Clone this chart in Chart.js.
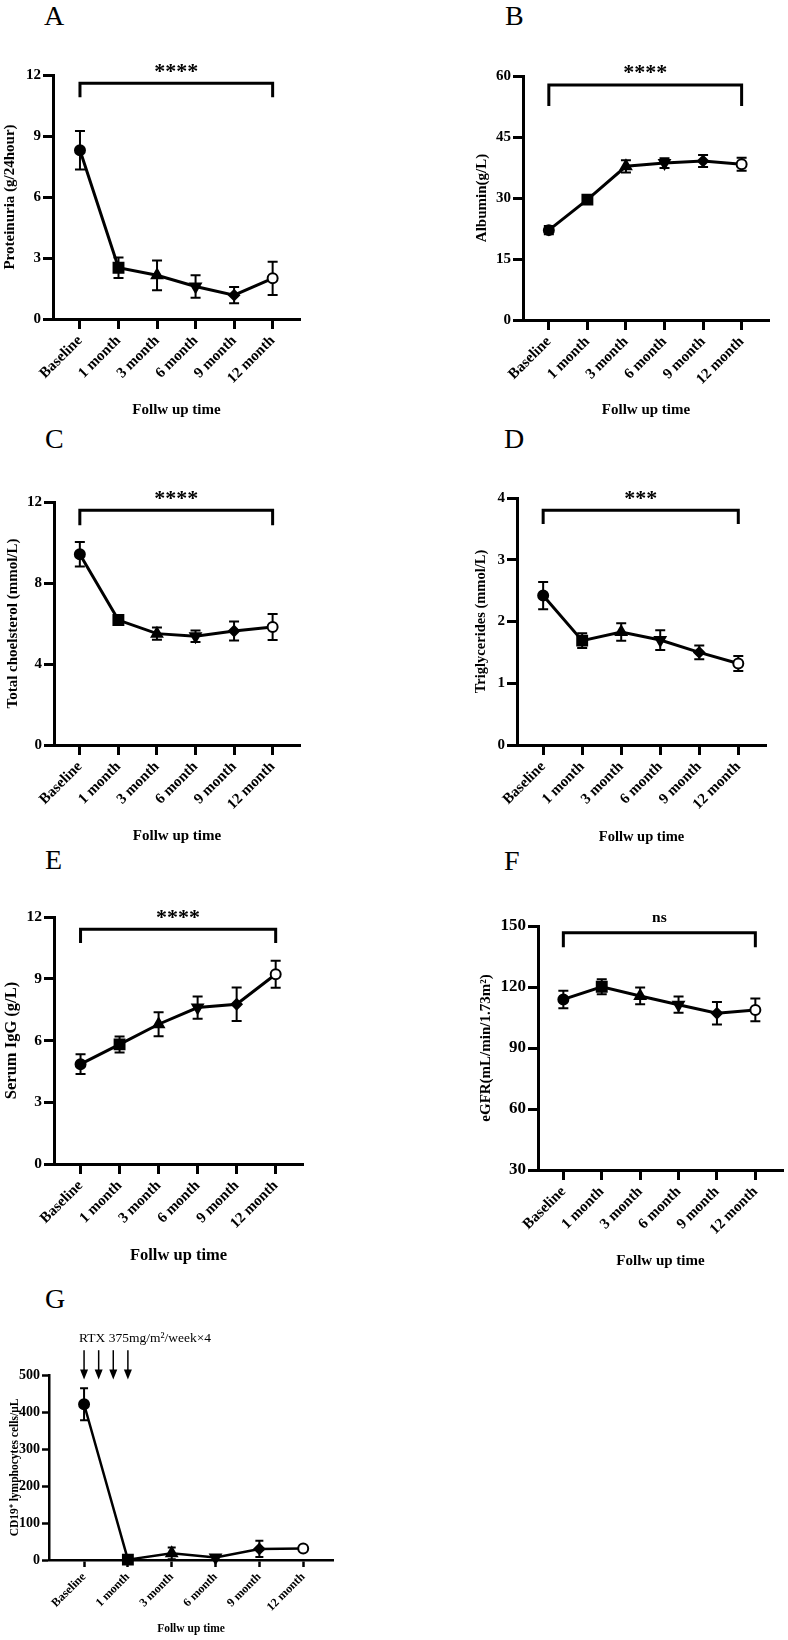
<!DOCTYPE html>
<html>
<head>
<meta charset="utf-8">
<script src="https://cdn.jsdelivr.net/npm/chart.js@4.4.1/dist/chart.umd.min.js"></script>
<style>
  body { margin: 0; background: #fff; width: 788px; height: 1640px; position: relative; overflow: hidden; }
  canvas { position: absolute; }
  .lbl { position: absolute; font: 28px "Liberation Serif", "Times New Roman", serif; line-height: 28px; color: #000; }
</style>
</head>
<body>
<div class="lbl" style="left:44px;top:2px">A</div>
<div class="lbl" style="left:505px;top:2px">B</div>
<div class="lbl" style="left:45px;top:425px">C</div>
<div class="lbl" style="left:504px;top:425px">D</div>
<div class="lbl" style="left:45px;top:846px">E</div>
<div class="lbl" style="left:504px;top:847px">F</div>
<div class="lbl" style="left:45px;top:1285px">G</div>
<script>
// follow-up points
const categories = ['Baseline', '1 month', '3 month', '6 month', '9 month', '12 month'];

// mean and error
const proteinuria = [8.3, 2.52, 2.15, 1.6, 1.17, 2.0];
const proteinuriaErr = [0.95, 0.5, 0.73, 0.55, 0.4, 0.82];
const albumin = [22.1, 29.6, 37.8, 38.6, 39.1, 38.3];
const albuminErr = [1.0, 0.8, 1.5, 1.2, 1.5, 1.6];
const cholesterol = [9.42, 6.17, 5.5, 5.37, 5.63, 5.83];
const cholesterolErr = [0.6, 0.2, 0.3, 0.28, 0.47, 0.64];
const triglycerides = [2.42, 1.69, 1.83, 1.7, 1.5, 1.32];
const triglyceridesErr = [0.22, 0.12, 0.14, 0.16, 0.11, 0.12];
const igg = [4.85, 5.81, 6.79, 7.6, 7.76, 9.22];
const iggErr = [0.48, 0.39, 0.58, 0.54, 0.81, 0.66];
const egfr = [113.9, 120.1, 115.6, 111.3, 107.1, 108.7];
const egfrErr = [4.3, 3.7, 4.1, 4.0, 5.5, 5.6];
const cd19 = [421, 1, 18, 7, 30, 31];
const cd19Err = [43, 2, 16, 5, 22, 3];

// RTX given weekly x4 between baseline and 1 month
const rtxDoses = [0, 1 / 3, 2 / 3, 1];

// prism-like markers, one per time point
const markerStyle = ['circle', 'rect', 'triangle', 'triangle', 'rectRot', 'circle'];
const markerRotation = [0, 0, 0, 180, 0, 0];
const markerFill = ['#000', '#000', '#000', '#000', '#000', '#fff'];
const markerRadius = [5, 7, 6, 6, 5, 5];

const FAMILY = '"Liberation Serif", "Times New Roman", serif';
const font = (size, weight = 'bold') => ({ family: FAMILY, size, weight });

const errorBars = {
  id: 'errorBars',
  beforeDatasetsDraw(chart) {
    const ctx = chart.ctx, xs = chart.scales.x, ys = chart.scales.y;
    chart.data.datasets.forEach(ds => {
      if (!ds.errors) return;
      ctx.save();
      ctx.strokeStyle = '#000';
      ctx.lineWidth = 2;
      const cap = ds.capHalf || 5;
      ds.data.forEach((pt, i) => {
        const e = ds.errors[i];
        const x = xs.getPixelForValue(pt.x);
        const y1 = ys.getPixelForValue(pt.y + e);
        const y2 = ys.getPixelForValue(Math.max(pt.y - e, ys.min));
        ctx.beginPath();
        ctx.moveTo(x, y1); ctx.lineTo(x, y2);
        ctx.moveTo(x - cap, y1); ctx.lineTo(x + cap, y1);
        ctx.moveTo(x - cap, y2); ctx.lineTo(x + cap, y2);
        ctx.stroke();
      });
      ctx.restore();
    });
  }
};

const bracket = {
  id: 'bracket',
  afterDraw(chart, args, o) {
    if (!o || o.text === undefined) return;
    const ctx = chart.ctx, xs = chart.scales.x, ys = chart.scales.y;
    const x1 = xs.getPixelForValue(0), x2 = xs.getPixelForValue(categories.length - 1);
    const yTop = ys.getPixelForValue(o.top), yLeg = ys.getPixelForValue(o.leg);
    ctx.save();
    ctx.strokeStyle = '#000';
    ctx.lineWidth = 3;
    ctx.lineJoin = 'miter';
    ctx.beginPath();
    ctx.moveTo(x1, yLeg); ctx.lineTo(x1, yTop); ctx.lineTo(x2, yTop); ctx.lineTo(x2, yLeg);
    ctx.stroke();
    ctx.fillStyle = '#000';
    ctx.font = 'bold ' + o.size + 'px ' + FAMILY;
    ctx.textAlign = 'center';
    ctx.textBaseline = 'alphabetic';
    ctx.fillText(o.text, (x1 + x2) / 2, yTop - o.gap);
    ctx.restore();
  }
};

const rtxArrows = {
  id: 'rtxArrows',
  afterDraw(chart, args, o) {
    if (!o || !o.doses) return;
    const ctx = chart.ctx, xs = chart.scales.x, ys = chart.scales.y;
    const top = ys.getPixelForValue(o.from), tip = ys.getPixelForValue(o.to);
    ctx.save();
    ctx.strokeStyle = '#000';
    ctx.fillStyle = '#000';
    o.doses.forEach(d => {
      const x = xs.getPixelForValue(d);
      ctx.lineWidth = 1.5;
      ctx.beginPath(); ctx.moveTo(x, top); ctx.lineTo(x, tip - 8); ctx.stroke();
      ctx.beginPath(); ctx.moveTo(x - 4, tip - 10); ctx.lineTo(x + 4, tip - 10); ctx.lineTo(x, tip); ctx.closePath(); ctx.fill();
    });
    ctx.font = 'normal 13.5px ' + FAMILY;
    ctx.textAlign = 'left';
    ctx.textBaseline = 'alphabetic';
    ctx.fillText(o.text, xs.getPixelForValue(o.doses[0]) - 5, ys.getPixelForValue(o.textAt));
    ctx.restore();
  }
};

const panels = [
  { values: proteinuria, errors: proteinuriaErr, yTitle: 'Proteinuria (g/24hour)', yMin: 0, yMax: 12, yStep: 3,
    xMin: -0.7, xMax: 5.71, sig: { text: '****', top: 11.6, leg: 10.9, size: 22, gap: 5.5 },
    area: { l: 53, r: 300, t: 75, b: 319 }, titleX: 10, xTitleY: 410, tick: 15, xTick: 15, title: 15 },
  { values: albumin, errors: albuminErr, yTitle: 'Albumin(g/L)', yMin: 0, yMax: 60, yStep: 15,
    xMin: -0.67, xMax: 5.71, sig: { text: '****', top: 57.8, leg: 52.6, size: 22, gap: 5.5 },
    area: { l: 523, r: 769, t: 76, b: 320 }, titleX: 482, xTitleY: 410, tick: 15, xTick: 15, title: 15 },
  { values: cholesterol, errors: cholesterolErr, yTitle: 'Total choelsterol (mmol/L)', yMin: 0, yMax: 12, yStep: 4,
    xMin: -0.67, xMax: 5.71, sig: { text: '****', top: 11.59, leg: 10.85, size: 22, gap: 5.5 },
    area: { l: 54, r: 300, t: 502, b: 745 }, titleX: 13, xTitleY: 836, tick: 15, xTick: 15, title: 15 },
  { values: triglycerides, errors: triglyceridesErr, yTitle: 'Triglycerides (mmol/L)', yMin: 0, yMax: 4, yStep: 1,
    xMin: -0.67, xMax: 5.71, sig: { text: '***', top: 3.8, leg: 3.58, size: 22, gap: 5.5 },
    area: { l: 517, r: 766, t: 498, b: 745 }, titleX: 482, xTitleY: 837, tick: 15, xTick: 15, title: 14.5 },
  { values: igg, errors: iggErr, yTitle: 'Serum IgG (g/L)', yMin: 0, yMax: 12, yStep: 3,
    xMin: -0.68, xMax: 5.7, sig: { text: '****', top: 11.4, leg: 10.74, size: 22, gap: 5.5 },
    area: { l: 54, r: 303, t: 917, b: 1164 }, titleX: 12, xTitleY: 1256, tick: 15.5, xTick: 15, title: 16.5 },
  { values: egfr, errors: egfrErr, yTitle: 'eGFR(mL/min/1.73m²)', yMin: 30, yMax: 150, yStep: 30,
    xMin: -0.66, xMax: 5.72, sig: { text: 'ns', top: 146.7, leg: 139.5, size: 15.5, gap: 11 },
    area: { l: 538, r: 783, t: 926, b: 1170 }, titleX: 486, xTitleY: 1261, tick: 17, xTick: 15, title: 15 },
  { values: cd19, errors: cd19Err, yTitle: 'CD19⁺ lymphocytes cells/μL', yMin: 0, yMax: 500, yStep: 100,
    xMin: -0.8, xMax: 5.68, rtx: { doses: rtxDoses, from: 567, to: 488, textAt: 589, text: 'RTX 375mg/m²/week×4' },
    area: { l: 49, r: 333, t: 1375, b: 1560 }, titleX: 15, xTitleY: 1629, tick: 14, xTick: 12, title: 11.5,
    padTop: 56, tickLen: 7, lineW: 2.5, cap: 4 }
];

function makePanel(p) {
  const half = p.title * 1.2 / 2;
  const padT = p.padTop || 40;
  const padR = 12;
  const cLeft = Math.round(p.titleX - half - 2);
  const cTop = p.area.t - padT;
  const cRight = p.area.r + padR;
  const cBottom = Math.round(p.xTitleY + half + 4);
  const yW = p.area.l - cLeft;
  const xH = cBottom - p.area.b;
  const tickLen = p.tickLen || 10;
  const axisW = p.lineW || 3;

  const canvas = document.createElement('canvas');
  canvas.width = cRight - cLeft;
  canvas.height = cBottom - cTop;
  canvas.style.left = cLeft + 'px';
  canvas.style.top = cTop + 'px';
  document.body.appendChild(canvas);

  const pluginOpts = { legend: { display: false }, tooltip: { enabled: false } };
  const plugins = [errorBars];
  if (p.sig) { plugins.push(bracket); pluginOpts.bracket = p.sig; }
  if (p.rtx) { plugins.push(rtxArrows); pluginOpts.rtxArrows = p.rtx; }

  new Chart(canvas, {
    type: 'line',
    data: {
      datasets: [{
        data: p.values.map((v, i) => ({ x: i, y: v })),
        errors: p.errors,
        capHalf: p.cap || 5,
        borderColor: '#000',
        borderWidth: axisW,
        tension: 0,
        fill: false,
        clip: false,
        pointStyle: markerStyle,
        pointRotation: markerRotation,
        pointRadius: markerRadius,
        pointBackgroundColor: markerFill,
        pointBorderColor: '#000',
        pointBorderWidth: 2
      }]
    },
    options: {
      responsive: false,
      animation: false,
      events: [],
      layout: { padding: { top: padT, right: padR, left: 0, bottom: 0 } },
      scales: {
        x: {
          type: 'linear',
          min: p.xMin,
          max: p.xMax,
          afterBuildTicks: s => { s.ticks = categories.map((c, i) => ({ value: i })); },
          afterFit: s => { s.height = xH; s.paddingLeft = 0; s.paddingRight = 0; },
          border: { display: true, color: '#000', width: axisW },
          grid: { drawOnChartArea: false, drawTicks: true, tickLength: tickLen, tickWidth: axisW, tickColor: '#000', color: '#000' },
          ticks: {
            autoSkip: false, minRotation: 45, maxRotation: 45, padding: 3,
            color: '#000', font: font(p.xTick),
            callback: v => categories[v]
          },
          title: { display: true, text: 'Follw up time', color: '#000', font: font(p.title), padding: { top: 0, bottom: 4 } }
        },
        y: {
          min: p.yMin,
          max: p.yMax,
          afterFit: s => { s.width = yW; s.paddingTop = 0; s.paddingBottom = 0; },
          border: { display: true, color: '#000', width: axisW },
          grid: { drawOnChartArea: false, drawTicks: true, tickLength: tickLen, tickWidth: axisW, tickColor: '#000', color: '#000' },
          ticks: { stepSize: p.yStep, padding: 2, color: '#000', font: font(p.tick) },
          title: { display: true, text: p.yTitle, color: '#000', font: font(p.title), padding: { top: 2, bottom: 0 } }
        }
      },
      plugins: pluginOpts
    },
    plugins: plugins
  });
}

panels.forEach(makePanel);
</script>
</body>
</html>
